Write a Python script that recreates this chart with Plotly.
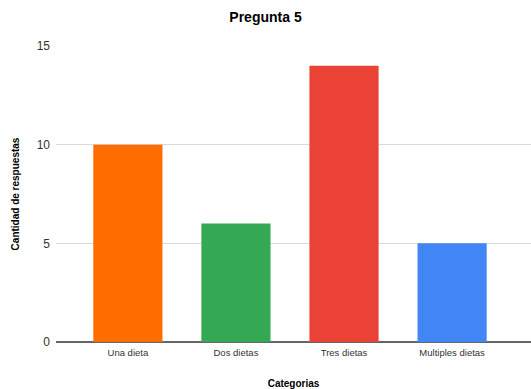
import plotly.graph_objects as go

categorias = ["Una dieta", "Dos dietas", "Tres dietas", "Multiples dietas"]
respuestas = [10, 6, 14, 5]
colores = ["#ff6d01", "#34a853", "#ea4335", "#4285f4"]
ticks_y = [0, 5, 10, 15]

fig = go.Figure(
    go.Bar(
        x=list(range(len(categorias))),
        y=respuestas,
        marker=dict(color=colores, line=dict(width=0)),
        width=0.64,
        hoverinfo="skip",
    )
)

font = "Liberation Sans, Arial, sans-serif"

fig.update_layout(
    width=531,
    height=389,
    margin=dict(l=56, r=0, t=46, b=47),
    paper_bgcolor="white",
    plot_bgcolor="white",
    showlegend=False,
    title=dict(
        text="<b>Pregunta 5</b>",
        x=0.5,
        xanchor="center",
        y=1 - 17 / 389,
        yanchor="middle",
        font=dict(family=font, size=14, color="#000000"),
    ),
    font=dict(family=font),
)

fig.update_xaxes(
    range=[-0.665, 3.73],
    tickmode="array",
    tickvals=list(range(len(categorias))),
    ticktext=categorias,
    tickfont=dict(family=font, size=9.5, color="#333333"),
    showgrid=False,
    zeroline=False,
    showline=False,
    ticks="",
    ticklabelstandoff=3,
    title=dict(
        text="<b>Categorias</b>",
        font=dict(family=font, size=10, color="#000000"),
        standoff=23,
    ),
)

fig.update_yaxes(
    range=[0, 15],
    tickmode="array",
    tickvals=ticks_y,
    ticktext=[str(v) for v in ticks_y],
    tickfont=dict(family=font, size=12, color="#333333"),
    showgrid=True,
    gridcolor="#d9d9d9",
    gridwidth=1,
    zeroline=True,
    zerolinecolor="#666666",
    zerolinewidth=1.5,
    ticks="",
    ticklabelstandoff=5,
    title=dict(
        text="<b>Cantidad de respuestas</b>",
        font=dict(family=font, size=10, color="#000000"),
        standoff=15,
    ),
)

fig.write_html("out.html")
